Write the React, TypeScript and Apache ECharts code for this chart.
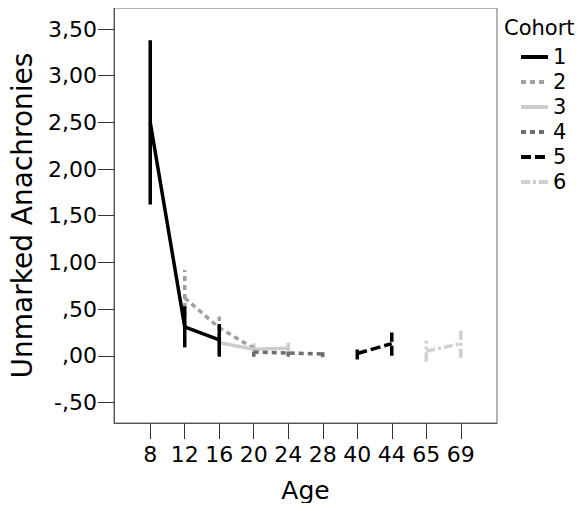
import React, { useEffect, useRef } from "react";
import * as echarts from "echarts";

const ages = ["8", "12", "16", "20", "24", "28", "40", "44", "65", "69"];
const yTicks = [-0.5, 0, 0.5, 1, 1.5, 2, 2.5, 3, 3.5];
const cohortNames = ["1", "2", "3", "4", "5", "6"];

const c1Ages = ["8", "12", "16"];
const c1Mean = [2.5, 0.31, 0.17];
const c1Low = [1.62, 0.09, -0.01];
const c1High = [3.38, 0.53, 0.34];

const c2Ages = ["12", "16", "20"];
const c2Mean = [0.62, 0.3, 0.08];
const c2Low = [0.32, 0.18, 0.03];
const c2High = [0.92, 0.42, 0.13];

const c3Ages = ["16", "20", "24"];
const c3Mean = [0.14, 0.07, 0.08];
const c3Low = [0.06, -0.01, 0.01];
const c3High = [0.22, 0.13, 0.14];

const c4Ages = ["20", "24", "28"];
const c4Mean = [0.04, 0.03, 0.02];
const c4Low = [-0.01, -0.01, -0.015];
const c4High = [0.09, 0.07, 0.055];

const c5Ages = ["40", "44"];
const c5Mean = [0.025, 0.13];
const c5Low = [-0.04, 0.0];
const c5High = [0.09, 0.25];

const c6Ages = ["65", "69"];
const c6Mean = [0.05, 0.13];
const c6Low = [-0.06, -0.02];
const c6High = [0.16, 0.28];

const cohortAges = [c1Ages, c2Ages, c3Ages, c4Ages, c5Ages, c6Ages];
const cohortMeans = [c1Mean, c2Mean, c3Mean, c4Mean, c5Mean, c6Mean];
const cohortLows = [c1Low, c2Low, c3Low, c4Low, c5Low, c6Low];
const cohortHighs = [c1High, c2High, c3High, c4High, c5High, c6High];

const colors = ["#000000", "#a0a0a0", "#cdcdcd", "#6e6e6e", "#000000", "#d0d0d0"];
const dashes: (number[] | null)[] = [null, [5, 4], null, [5, 4], [10, 4], [9, 3, 3, 3]];

const FONT = "DejaVu Sans";

function fmtY(v: number): string {
  const s = Math.abs(v).toFixed(2).replace(".", ",");
  const t = s.startsWith("0") ? s.slice(1) : s;
  return (v < 0 ? "-" : "") + t;
}

export default function App() {
  const ref = useRef<HTMLDivElement>(null);
  useEffect(() => {
    if (!ref.current) return;
    const chart = echarts.init(ref.current, undefined, { renderer: "svg" });
    const series: any[] = [];
    cohortNames.forEach((name, k) => {
      const idx = cohortAges[k].map((a) => ages.indexOf(a));
      const zBase = k === 0 ? 10 : 2;
      series.push({
        name: "err" + name,
        type: "custom",
        data: idx.map((x, j) => [x, cohortLows[k][j], cohortHighs[k][j]]),
        renderItem: (params: any, api: any) => {
          const x = api.value(0);
          const p1 = api.coord([x, api.value(1)]);
          const p2 = api.coord([x, api.value(2)]);
          return {
            type: "line",
            shape: { x1: p1[0], y1: p1[1], x2: p2[0], y2: p2[1] },
            style: {
              stroke: colors[k],
              lineWidth: 3.5,
              lineDash: dashes[k] || undefined,
              fill: null,
            },
          };
        },
        z: zBase,
      });
      series.push({
        name,
        type: "line",
        data: idx.map((x, j) => [x, cohortMeans[k][j]]),
        symbol: "none",
        showSymbol: false,
        lineStyle: {
          color: colors[k],
          width: 3.5,
          type: dashes[k] || "solid",
        },
        itemStyle: { color: colors[k], opacity: 0 },
        z: zBase + 1,
      });
    });

    chart.setOption({
      animation: false,
      textStyle: { fontFamily: FONT },
      title: {
        text: "Cohort",
        left: 504,
        top: 17,
        padding: 0,
        textStyle: { fontFamily: FONT, fontSize: 21, fontWeight: "normal", color: "#000" },
      },
      legend: {
        data: cohortNames,
        orient: "vertical",
        left: 519,
        top: 46,
        padding: 0,
        itemWidth: 27,
        itemHeight: 10,
        itemGap: 3,
        itemStyle: { opacity: 0 },
        lineStyle: { width: 4 },
        textStyle: { fontFamily: FONT, fontSize: 21, color: "#000", lineHeight: 22 },
        selectedMode: false,
      },
      grid: {
        left: 113,
        top: 8,
        right: 87,
        bottom: 88,
        show: true,
        borderColor: "#6a6a6a",
        borderWidth: 1,
      },
      xAxis: {
        type: "value",
        min: -1.05,
        max: 10.05,
        name: "Age",
        nameLocation: "middle",
        nameGap: 55,
        nameTextStyle: { fontFamily: FONT, fontSize: 25, color: "#000" },
        axisLine: { show: true, onZero: false, lineStyle: { color: "#555", width: 1 } },
        axisTick: {
          show: true,
          length: 16,
          customValues: ages.map((_, i) => i),
          lineStyle: { color: "#333", width: 1 },
        },
        axisLabel: {
          customValues: ages.map((_, i) => i),
          formatter: (v: number) => ages[Math.round(v)] ?? "",
          margin: 20,
          fontFamily: FONT,
          fontSize: 22,
          color: "#000",
        },
        splitLine: { show: false },
      },
      yAxis: {
        type: "value",
        min: -0.72,
        max: 3.725,
        name: "Unmarked Anachronies",
        nameLocation: "middle",
        nameGap: 78,
        nameRotate: 90,
        nameTextStyle: { fontFamily: FONT, fontSize: 28, color: "#000" },
        axisLine: { show: true, onZero: false, lineStyle: { color: "#555", width: 1 } },
        axisTick: {
          show: true,
          length: 16,
          customValues: yTicks,
          lineStyle: { color: "#333", width: 1 },
        },
        axisLabel: {
          customValues: yTicks,
          formatter: (v: number) => fmtY(v),
          margin: 17,
          fontFamily: FONT,
          fontSize: 22,
          color: "#000",
        },
        splitLine: { show: false },
      },
      series,
    });
    return () => chart.dispose();
  }, []);
  return <div ref={ref} style={{ width: 584, height: 511, margin: -8 }} />;
}
